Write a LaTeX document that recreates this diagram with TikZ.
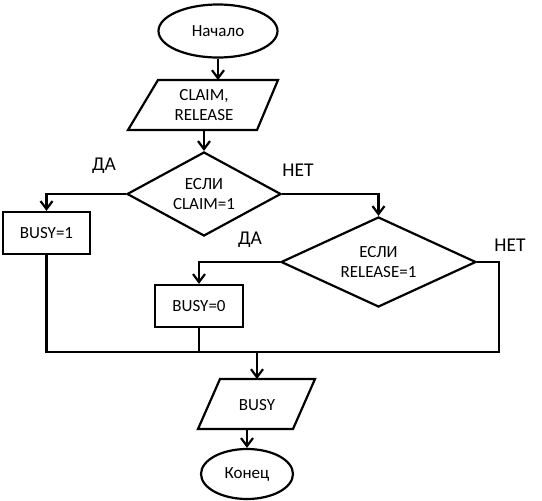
\documentclass[tikz,border=0pt]{standalone}
\usepackage{fontspec}
\setmainfont{Carlito}
\usetikzlibrary{shapes.geometric,arrows.meta}
\begin{document}
\begin{tikzpicture}[x=1pt,y=-1pt,
  line width=2.2pt,
  txt/.style={font=\fontsize{17}{20}\selectfont, align=center, inner sep=0pt},
  term/.style={ellipse, draw, txt},
  proc/.style={rectangle, draw, txt},
  decision/.style={diamond, aspect=2.2, draw, txt},
  lbl/.style={font=\fontsize{19.5}{22}\selectfont, inner sep=0pt},
  arr/.style={-{Straight Barb[length=8pt,width=12pt]}},
  io/.style={draw, line join=miter}
]
\useasboundingbox (0,0) rectangle (542,501);

% start
\node[term, minimum width=119pt, minimum height=53pt] (start) at (218,31) {Начало};

% input parallelogram
\coordinate (i1) at (158,80);
\coordinate (i2) at (278,80);
\coordinate (i3) at (257,130);
\coordinate (i4) at (128,130);
\draw[io] (i1) -- (i2) -- (i3) -- (i4) -- cycle;
\node[txt] (input) at (204,105) {CLAIM,\\RELEASE};
\coordinate (intop) at (218,80);
\coordinate (inbot) at (204,130);

% decision 1
\node[decision, minimum width=154pt, minimum height=84pt] (d1) at (204,194) {ЕСЛИ\\CLAIM=1};

% busy=1
\node[proc, minimum width=87pt, minimum height=42pt] (b1) at (46.5,233) {BUSY=1};

% decision 2
\node[decision, minimum width=195pt, minimum height=90pt] (d2) at (378.5,262) {ЕСЛИ\\RELEASE=1};

% busy=0
\node[proc, minimum width=88pt, minimum height=42pt] (b2) at (199,306) {BUSY=0};

% output parallelogram
\coordinate (o1) at (220,379);
\coordinate (o2) at (315,379);
\coordinate (o3) at (293,429);
\coordinate (o4) at (198,429);
\draw[io] (o1) -- (o2) -- (o3) -- (o4) -- cycle;
\node[txt] (output) at (257,405) {BUSY};
\coordinate (outtop) at (257,379);
\coordinate (outbot) at (247,429);

% end
\node[term, minimum width=92pt, minimum height=50pt] (end) at (247,474) {Конец};

% labels
\node[lbl] (da1) at (104,166) {ДА};
\node[lbl] (net1) at (298,170) {НЕТ};
\node[lbl] (da2) at (250,240) {ДА};
\node[lbl] (net2) at (510,245) {НЕТ};

% connectors
\coordinate (mrg) at (257,352);
\coordinate (nr) at (499,262);
\draw[arr] (start) -- (intop);
\draw[arr] (inbot) -- (d1.north);
\draw[arr] (d1.west) -| (b1.north);
\draw[arr] (d1.east) -| (d2.north);
\draw[arr] (d2.west) -| (b2.north);
\draw (b1.south) |- (mrg);
\draw (b2.south) -- (b2.south |- mrg);
\draw (d2.east) -- (nr) |- (mrg);
\draw[arr] (mrg) -- (outtop);
\draw[arr] (outbot) -- (end.north);
\end{tikzpicture}
\end{document}
